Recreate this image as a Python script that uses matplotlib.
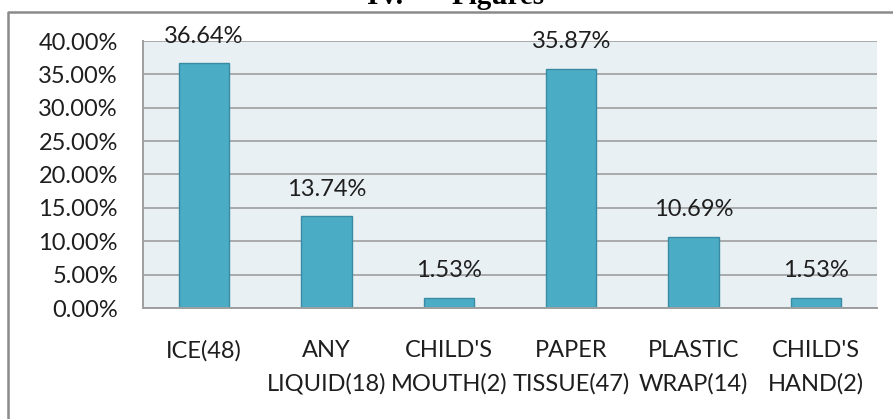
import matplotlib
matplotlib.use('Agg')
import matplotlib.pyplot as plt
from matplotlib.lines import Line2D

# data
categories = ["ICE(48)", "ANY\nLIQUID(18)", "CHILD'S\nMOUTH(2)", "PAPER\nTISSUE(47)", "PLASTIC\nWRAP(14)", "CHILD'S\nHAND(2)"]
percents = [36.64, 13.74, 1.53, 35.87, 10.69, 1.53]
yticks = [0, 5, 10, 15, 20, 25, 30, 35, 40]

plt.rcParams['font.family'] = ['Lato', 'DejaVu Sans']

fig = plt.figure(figsize=(8.93, 4.19), dpi=100)
ax = fig.add_axes([143/893, 1-308/419, (877-143)/893, (308-41)/419])

ax.set_facecolor('#e9f0f3')
x = list(range(len(categories)))
ax.bar(x, percents, width=0.41, color='#4bacc6', edgecolor='#3a8aa3', linewidth=1, zorder=2)

for xi, v in zip(x, percents):
    ax.annotate(f"{v:.2f}%", (xi, v), xytext=(0, 12), textcoords='offset points',
                ha='center', va='bottom', fontsize=17, color='#1e1e1e', zorder=4)

ax.set_xlim(-0.5, len(categories) - 0.5)
ax.set_ylim(0, 40)
ax.set_yticks(yticks)
ax.set_yticklabels([f"{t:.2f}%" for t in yticks])
ax.set_xticks(x)
ax.set_xticklabels(categories, linespacing=1.7)
ax.tick_params(axis='y', length=0, pad=18, labelsize=17, labelcolor='#1e1e1e')
ax.tick_params(axis='x', length=0, pad=23, labelsize=17, labelcolor='#1e1e1e')

ax.yaxis.grid(True, color='#9e9e9e', linewidth=1.2, zorder=1)
ax.set_axisbelow(True)
for side in ['top', 'right']:
    ax.spines[side].set_visible(False)
for side in ['left', 'bottom']:
    ax.spines[side].set_color('#9e9e9e')
    ax.spines[side].set_linewidth(1.4)

# outer frame (cut off on the right and bottom)
fy = 1 - 11.7/419
fx = 8/893
fig.add_artist(Line2D([fx, fx, 1.0], [0, fy, fy], transform=fig.transFigure,
                      color='#8a8a8a', linewidth=1.8))

# section heading, cut off at the top like in the source page
fig.text(367/893, 1 - 4/419, "IV.", ha='left', va='baseline',
         family='Liberation Serif', weight='bold', fontsize=21, color='black')
fig.text(452/893, 1 - 4/419, "Figures", ha='left', va='baseline',
         family='Liberation Serif', weight='bold', fontsize=21, color='black')

fig.savefig('out.png', dpi=100)
